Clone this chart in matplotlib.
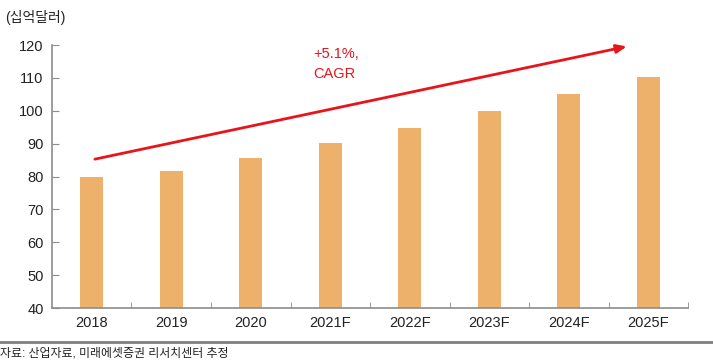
import matplotlib
matplotlib.use("Agg")
import matplotlib.pyplot as plt
from matplotlib.lines import Line2D

plt.rcParams['font.family'] = ['Liberation Sans', 'Noto Sans CJK KR', 'DejaVu Sans']

categories = ["2018", "2019", "2020", "2021F", "2022F", "2023F", "2024F", "2025F"]
values = [79.8, 81.7, 85.6, 90.2, 94.7, 99.9, 105.0, 110.2]
yticks = [40, 50, 60, 70, 80, 90, 100, 110, 120]
unit_label = "(십억달러)"
cagr_label = "+5.1%,\nCAGR"
source = "자료: 산업자료, 미래에셋증권 리서치센터 추정"

bar_color = "#EEB16B"
red = "#E8141B"
gray = "#8C8C8C"

fig = plt.figure(figsize=(7.13, 3.64), dpi=100)
ax = fig.add_axes([0.0729, 0.1538, 0.8921, 0.7222])

x = list(range(len(categories)))
ax.bar(x, values, width=0.29, color=bar_color, zorder=2)

ax.set_xlim(-0.5, len(categories) - 0.5)
ax.set_ylim(40, 120)
ax.set_yticks(yticks)
ax.set_yticklabels([str(v) for v in yticks], fontsize=10.5, color="#222222")
ax.set_xticks(x)
ax.set_xticklabels(categories, fontsize=10.5, color="#222222")
ax.tick_params(axis='x', length=0, pad=6)
ax.tick_params(axis='y', direction='in', length=5, color=gray, pad=6)
ax.set_xticks([i + 0.5 for i in range(len(categories))], minor=True)
ax.tick_params(axis='x', which='minor', direction='in', length=4, color=gray)

for s in ['top', 'right']:
    ax.spines[s].set_visible(False)
for s in ['left', 'bottom']:
    ax.spines[s].set_color(gray)
    ax.spines[s].set_linewidth(1.2)

ax.annotate("", xy=(6.73, 119.6), xytext=(0.04, 85.3),
            arrowprops=dict(arrowstyle='-|>,head_length=0.6,head_width=0.25',
                            color=red, lw=2.0, shrinkA=0, shrinkB=0), zorder=3)
ax.text(2.78, 119.5, cagr_label, color=red, fontsize=10.5, va='top', ha='left',
        linespacing=1.55)

fig.text(0.007, 0.953, unit_label, fontsize=10, color="#222222", va='center', ha='left')
fig.add_artist(Line2D([0, 1], [0.06, 0.06], transform=fig.transFigure,
                      color="#7F7F7F", lw=2))
fig.text(0.0, 0.03, source, fontsize=8.6, color="#222222", va='center', ha='left')

fig.savefig("out.png", dpi=100)
